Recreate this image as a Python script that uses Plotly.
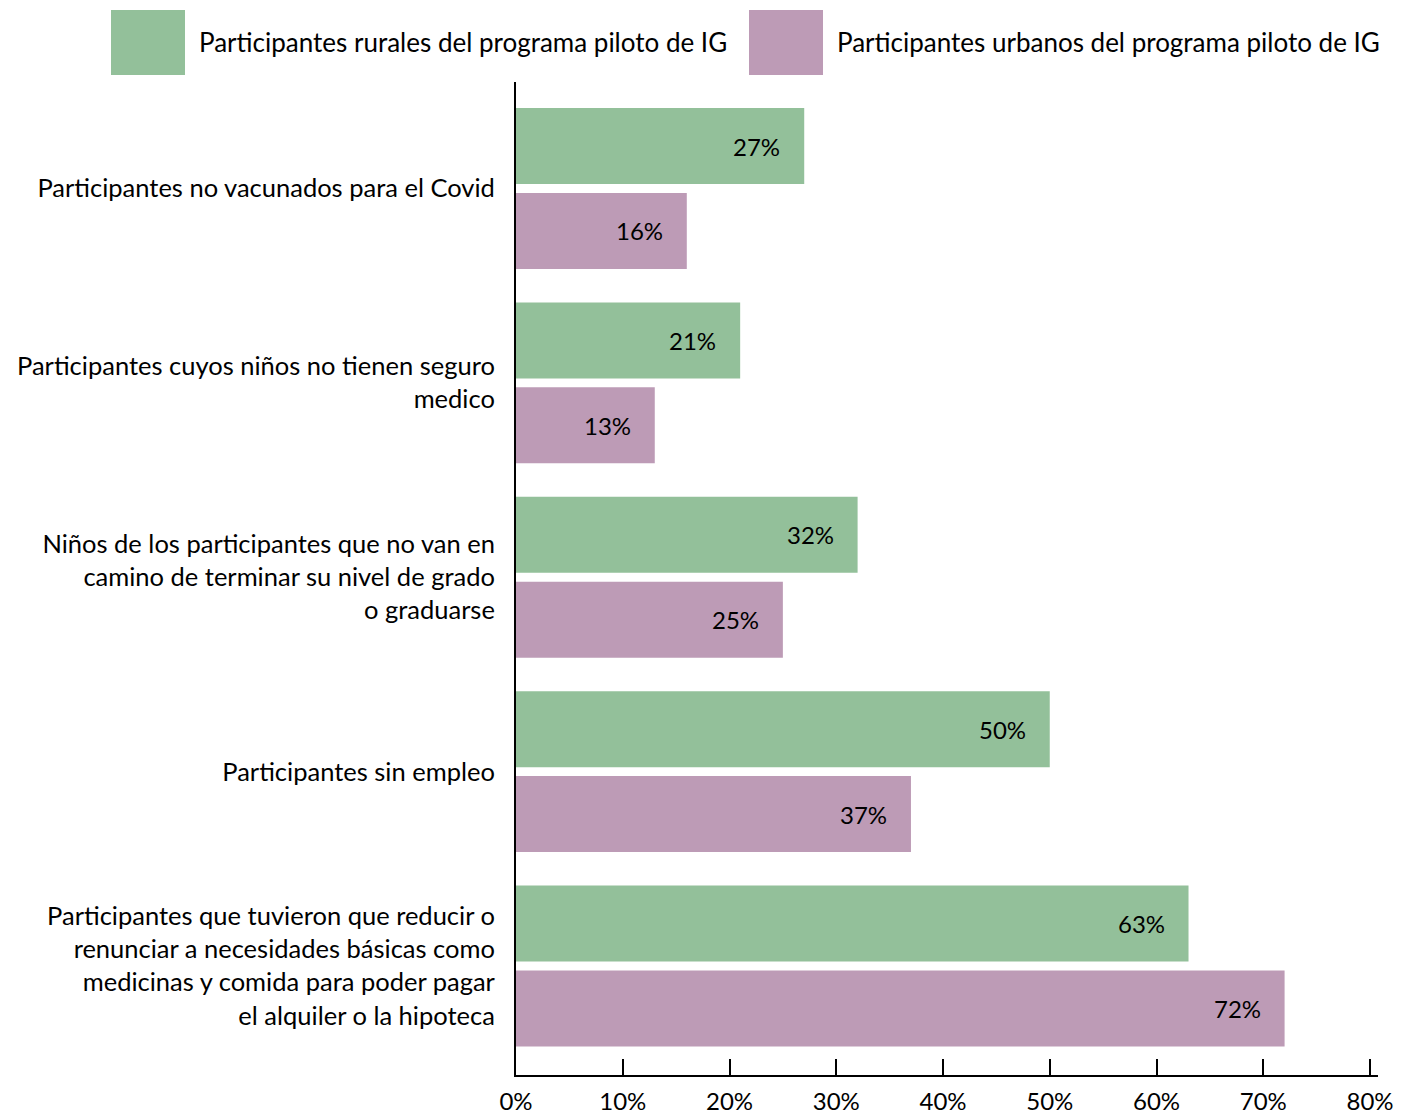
import plotly.graph_objects as go

# Datos
categorias = [
    'Participantes no vacunados para el Covid',
    'Participantes cuyos niños no tienen seguro<br>medico',
    'Niños de los participantes que no van en<br>camino de terminar su nivel de grado<br>o graduarse',
    'Participantes sin empleo',
    'Participantes que tuvieron que reducir o<br>renunciar a necesidades básicas como<br>medicinas y comida para poder pagar<br>el alquiler o la hipoteca',
]
rurales = [27, 21, 32, 50, 63]
urbanos = [16, 13, 25, 37, 72]
series = ['Participantes rurales del programa piloto de IG',
          'Participantes urbanos del programa piloto de IG']
colores = ['#93C09A', '#BD9BB6']
ticks_x = [0, 10, 20, 30, 40, 50, 60, 70, 80]

FUENTE = 'Lato'
posiciones = list(range(len(categorias)))

fig = go.Figure()
fig.add_trace(go.Bar(
    y=posiciones, x=rurales, orientation='h', name=series[0],
    marker=dict(color=colores[0], line=dict(width=0)),
    width=0.391, offset=-0.414,
))
fig.add_trace(go.Bar(
    y=posiciones, x=urbanos, orientation='h', name=series[1],
    marker=dict(color=colores[1], line=dict(width=0)),
    width=0.391, offset=0.023,
))

# Etiquetas de valor dentro de las barras
anotaciones = []
for i, (r, u) in enumerate(zip(rurales, urbanos)):
    anotaciones.append(dict(x=r, y=i - 0.2185, text=f'{r}%', showarrow=False,
                            xanchor='right', xshift=-22,
                            font=dict(family=FUENTE, size=24, color='black')))
    anotaciones.append(dict(x=u, y=i + 0.2185, text=f'{u}%', showarrow=False,
                            xanchor='right', xshift=-22,
                            font=dict(family=FUENTE, size=24, color='black')))

# Leyenda con cuadros grandes (coordenadas relativas al área del gráfico)
formas = []
leyenda_x = [111, 749]
for k in range(2):
    formas.append(dict(type='rect', xref='paper', yref='paper',
                       x0=(leyenda_x[k] - 516) / 862, x1=(leyenda_x[k] + 74 - 516) / 862,
                       y0=(1075 - 75) / 993, y1=(1075 - 10) / 993,
                       fillcolor=colores[k], line=dict(width=0), layer='above'))
    anotaciones.append(dict(xref='paper', yref='paper',
                            x=(leyenda_x[k] + 86 - 516) / 862, y=(1075 - 42) / 993,
                            text=series[k], showarrow=False, xanchor='left', yanchor='middle',
                            font=dict(family=FUENTE, size=26, color='black')))

fig.update_layout(
    width=1406, height=1116,
    margin=dict(l=508, r=36, t=74, b=49),
    paper_bgcolor='white', plot_bgcolor='white',
    barmode='overlay',
    showlegend=False,
    font=dict(family=FUENTE, size=25.5, color='black'),
    annotations=anotaciones,
    shapes=formas,
)

fig.update_xaxes(
    range=[0, 80.75], tickvals=ticks_x, ticktext=[f'{t}%' for t in ticks_x],
    showgrid=False, zeroline=False, automargin=False,
    showline=True, linecolor='black', linewidth=2,
    ticks='inside', ticklen=16, tickwidth=2, tickcolor='black',
    tickfont=dict(family=FUENTE, size=24), ticklabelstandoff=4,
)
fig.update_yaxes(
    range=[4.561, -0.548], tickvals=posiciones, ticktext=categorias,
    showgrid=False, zeroline=False, automargin=False,
    showline=True, linecolor='black', linewidth=2,
    ticks='', tickfont=dict(family=FUENTE, size=25.5), ticklabelstandoff=14,
)

fig.write_html('out.html')
